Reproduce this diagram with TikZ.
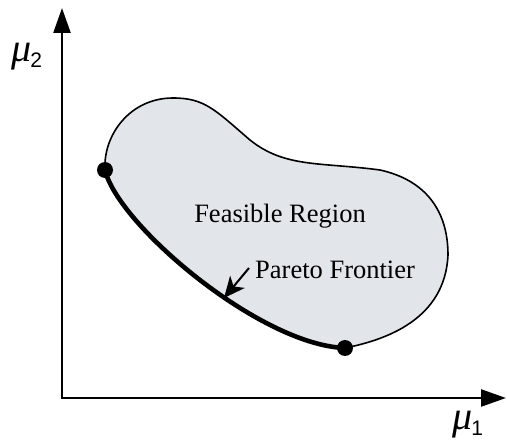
\documentclass[tikz,border=0pt]{standalone}
\usepackage{fontspec}
\setmainfont{Liberation Serif}
\newfontfamily\subfont{Liberation Sans}
\usetikzlibrary{arrows.meta}
\definecolor{regionfill}{RGB}{226,229,233}
\tikzset{
  axisline/.style={line width=2.4pt, -{Triangle[length=25pt,width=17pt]}},
  outline/.style={line width=1.6pt},
  frontier/.style={line width=4.6pt},
  enddot/.style={circle, fill=black, minimum size=16pt, inner sep=0pt},
  lbl/.style={inner sep=0pt, font=\fontsize{26.5}{30}\selectfont},
  axislbl/.style={inner sep=0pt, anchor=base west},
  pointer/.style={line width=2pt, -{Stealth[length=21pt,width=19pt,inset=6pt]}}
}
\newcommand{\axmu}[1]{{\fontsize{40}{44}\selectfont\textit{μ}}\kern-1pt\raisebox{-6pt}{\subfont\fontsize{21}{22}\selectfont #1}}
\begin{document}
\begin{tikzpicture}[x=1pt,y=-1pt]
\useasboundingbox (0,0) rectangle (507,441);
% region
\coordinate (A) at (105,170);
\coordinate (B) at (345,348);
\coordinate (R) at (448,255);
\coordinate (C) at (380,170);
\coordinate (D) at (250,140);
\coordinate (T) at (173,98);
\path[fill=regionfill] (A) .. controls (118,225) and (260,345) .. (B)
  .. controls (385,340) and (445,320) .. (R)
  .. controls (448,210) and (425,180) .. (C)
  .. controls (320,162) and (285,168) .. (D)
  .. controls (215,110) and (205,98) .. (T)
  .. controls (130,98) and (103,135) .. (A) -- cycle;
\draw[outline] (B)
  .. controls (385,340) and (445,320) .. (R)
  .. controls (448,210) and (425,180) .. (C)
  .. controls (320,162) and (285,168) .. (D)
  .. controls (215,110) and (205,98) .. (T)
  .. controls (130,98) and (103,135) .. (A);
\draw[frontier] (A) .. controls (118,225) and (260,345) .. (B);
\node[enddot] (dA) at (A) {};
\node[enddot] (dB) at (B) {};
% axes
\coordinate (O) at (62,398);
\coordinate (Ytip) at (62,8);
\coordinate (Xtip) at (506,398);
\draw[axisline] (O) -- (Ytip);
\draw[axisline] ([xshift=-1.2pt]O) -- (Xtip);
\node[axislbl] (mu2) at (11,62) {\axmu{2}};
\node[axislbl] (mu1) at (452,429) {\axmu{1}};
% labels
\node[lbl] (feas) at (280,216) {Feasible Region};
\node[lbl, anchor=west] (pf) at (255,270) {Pareto Frontier};
\coordinate (ptail) at (249,268);
\coordinate (phead) at (224,298);
\draw[pointer] (ptail) -- (phead);
\end{tikzpicture}
\end{document}
